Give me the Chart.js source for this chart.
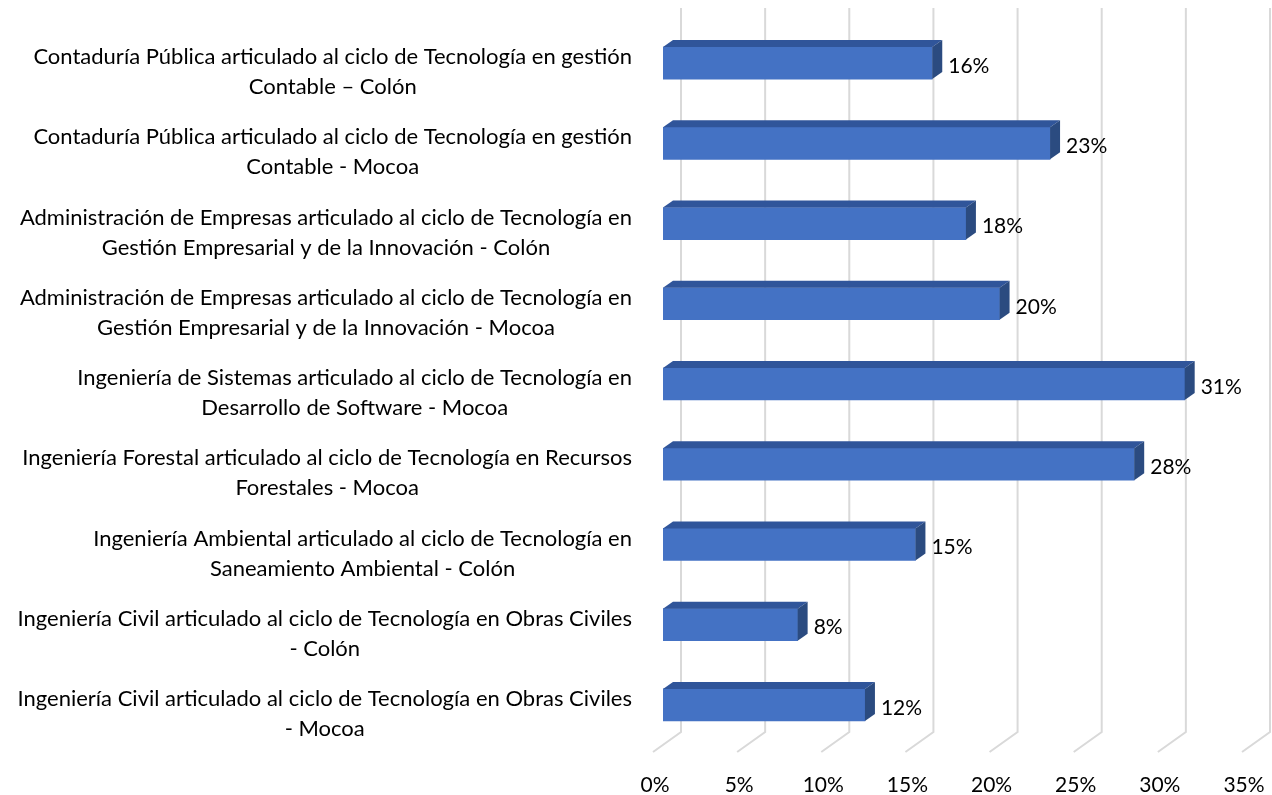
<!DOCTYPE html>
<html>
<head>
<meta charset="utf-8">
<script src="https://cdn.jsdelivr.net/npm/chart.js@4/dist/chart.umd.min.js"></script>
<style>
    html, body { margin: 0; padding: 0; background: #fff; }
    #chart-container { width: 1272px; height: 795px; }
</style>
</head>
<body>
<div id="chart-container"><canvas id="bar-chart"></canvas></div>
<script>
const programLabels = [
    ['Contaduría Pública articulado al ciclo de Tecnología en gestión', 'Contable – Colón'],
    ['Contaduría Pública articulado al ciclo de Tecnología en gestión', 'Contable - Mocoa'],
    ['Administración de Empresas articulado al ciclo de Tecnología en', 'Gestión Empresarial y de la Innovación - Colón'],
    ['Administración de Empresas articulado al ciclo de Tecnología en', 'Gestión Empresarial y de la Innovación - Mocoa'],
    ['Ingeniería de Sistemas articulado al ciclo de Tecnología en', 'Desarrollo de Software - Mocoa'],
    ['Ingeniería Forestal articulado al ciclo de Tecnología en Recursos', 'Forestales - Mocoa'],
    ['Ingeniería Ambiental articulado al ciclo de Tecnología en', 'Saneamiento Ambiental - Colón'],
    ['Ingeniería Civil articulado al ciclo de Tecnología en Obras Civiles', '- Colón'],
    ['Ingeniería Civil articulado al ciclo de Tecnología en Obras Civiles', '- Mocoa']
];
const percentValues = [16, 23, 18, 20, 31, 28, 15, 8, 12];
const axisMin = 0;
const axisMax = 35;
const axisStep = 5;

const FONT = 'Lato, "Open Sans", sans-serif';
const DEPTH_X = 10;
const DEPTH_Y = 7;

// back wall + floor gridlines (3D look)
const gridPlugin = {
    id: 'grid3d',
    beforeDatasetsDraw(chart) {
        const ctx = chart.ctx;
        const area = chart.chartArea;
        const xScale = chart.scales.x;
        ctx.save();
        ctx.strokeStyle = '#d9d9d9';
        ctx.lineWidth = 2;
        xScale.ticks.forEach(t => {
            const px = xScale.getPixelForValue(t.value);
            ctx.beginPath();
            ctx.moveTo(px + 18, area.top - 15);
            ctx.lineTo(px + 18, area.bottom - 13);
            ctx.lineTo(px - 10, area.bottom + 7);
            ctx.stroke();
        });
        ctx.restore();
    }
};

// top + side faces of the bars, value labels and category labels
const barPlugin = {
    id: 'bar3d',
    afterDatasetsDraw(chart) {
        const ctx = chart.ctx;
        const meta = chart.getDatasetMeta(0);
        ctx.save();
        meta.data.forEach((bar, i) => {
            const { x, y, base, height } = bar.getProps(['x', 'y', 'base', 'height'], true);
            const top = y - height / 2;
            const bottom = y + height / 2;

            ctx.fillStyle = '#30559a';
            ctx.beginPath();
            ctx.moveTo(base, top);
            ctx.lineTo(base + DEPTH_X, top - DEPTH_Y);
            ctx.lineTo(x + DEPTH_X, top - DEPTH_Y);
            ctx.lineTo(x, top);
            ctx.closePath();
            ctx.fill();

            ctx.fillStyle = '#2b4b80';
            ctx.beginPath();
            ctx.moveTo(x, top);
            ctx.lineTo(x + DEPTH_X, top - DEPTH_Y);
            ctx.lineTo(x + DEPTH_X, bottom - DEPTH_Y);
            ctx.lineTo(x, bottom);
            ctx.closePath();
            ctx.fill();

            ctx.fillStyle = '#000';
            ctx.font = '21px ' + FONT;
            ctx.textAlign = 'left';
            ctx.textBaseline = 'middle';
            ctx.fillText(percentValues[i] + '%', x + 16, y + 3);
        });
        ctx.restore();
    },
    afterDraw(chart) {
        const ctx = chart.ctx;
        const yScale = chart.scales.y;
        const rightEdge = chart.chartArea.left - 31;
        ctx.save();
        ctx.fillStyle = '#000';
        ctx.font = '22px ' + FONT;
        ctx.textAlign = 'center';
        ctx.textBaseline = 'middle';
        programLabels.forEach((lines, i) => {
            const cy = yScale.getPixelForTick(i) + 9;
            const widest = Math.max(...lines.map(l => ctx.measureText(l).width));
            const cx = rightEdge - widest / 2;
            lines.forEach((line, k) => {
                ctx.fillText(line, cx, cy + (k - (lines.length - 1) / 2) * 30);
            });
        });
        ctx.restore();
    }
};

const ctx = document.getElementById('bar-chart').getContext('2d');
new Chart(ctx, {
    type: 'bar',
    data: {
        labels: programLabels,
        datasets: [{
            data: percentValues,
            backgroundColor: '#4472c4',
            borderWidth: 0,
            barThickness: 32
        }]
    },
    options: {
        indexAxis: 'y',
        responsive: true,
        maintainAspectRatio: false,
        animation: false,
        layout: { padding: { top: 23, right: 20, bottom: 0, left: 0 } },
        plugins: {
            legend: { display: false },
            tooltip: { enabled: false }
        },
        scales: {
            x: {
                min: axisMin,
                max: axisMax,
                grid: { display: false, drawTicks: false },
                border: { display: false },
                ticks: {
                    stepSize: axisStep,
                    padding: 28,
                    labelOffset: -8,
                    color: '#000',
                    font: { family: FONT, size: 21 },
                    callback: v => v + '%'
                },
                afterFit: scale => {
                    scale.height = 50;
                    scale.paddingLeft = 0;
                    scale.paddingRight = 0;
                }
            },
            y: {
                grid: { display: false, drawTicks: false },
                border: { display: false },
                ticks: { display: false },
                afterFit: scale => { scale.width = 663; }
            }
        }
    },
    plugins: [gridPlugin, barPlugin]
});
</script>
</body>
</html>
